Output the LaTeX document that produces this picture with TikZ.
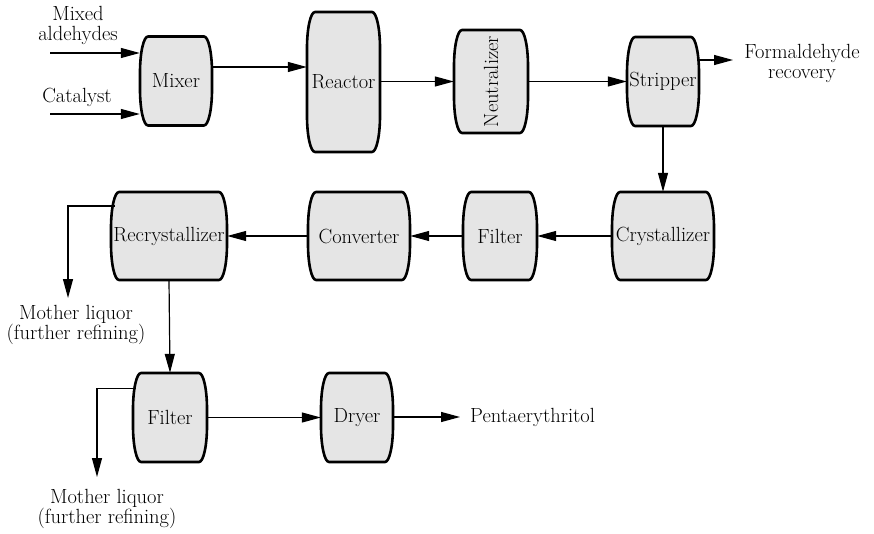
\documentclass[tikz,border=0pt]{standalone}
\usepackage{times}
\usetikzlibrary{arrows.meta,calc}
\definecolor{vfill}{HTML}{E5E5E5}
\tikzset{
  vessel/.style={draw=black, fill=vfill, line width=2.6pt, line join=round},
  vnode/.style={draw=none, inner sep=0pt, font=\fontsize{20.5}{20}\selectfont},
  lbl/.style={inner sep=0pt, align=center, font=\fontsize{20.5}{20}\selectfont},
  flow/.style={line width=1.2pt, -{Triangle[length=19pt,width=10pt]}}
}
\newcommand\vessel[6]{%
  \filldraw[vessel] ({#2-#4/2+8},{-#3+#5/2}) -- ({#2+#4/2-8},{-#3+#5/2})
    arc[start angle=90,end angle=0,x radius=8pt,y radius=36pt]
    -- ({#2+#4/2},{-#3-#5/2+36})
    arc[start angle=0,end angle=-90,x radius=8pt,y radius=36pt]
    -- ({#2-#4/2+8},{-#3-#5/2})
    arc[start angle=270,end angle=180,x radius=8pt,y radius=36pt]
    -- ({#2-#4/2},{-#3+#5/2-36})
    arc[start angle=180,end angle=90,x radius=8pt,y radius=36pt]
    -- cycle;
  \node[vnode, minimum width=#4pt, minimum height=#5pt] (#1) at (#2,-#3) {#6};}
\begin{document}
\begin{tikzpicture}[x=1pt,y=1pt]
\useasboundingbox (0,0) rectangle (874,-534);
% vessels
\vessel{mixer}{176}{81}{72}{89}{Mixer}
\vessel{reactor}{343.5}{82}{73}{140}{Reactor}
\vessel{neut}{491}{81.5}{74}{103}{\rotatebox{90}{Neutralizer}}
\vessel{stripper}{663}{81.5}{72}{89}{Stripper}
\vessel{cryst}{663}{236}{102}{88}{Crystallizer}
\vessel{filterA}{500}{236}{74}{88}{Filter}
\vessel{conv}{359}{236}{102}{88}{Converter}
\vessel{recryst}{169}{236}{116}{88}{Recrystallizer}
\vessel{filterB}{170}{417.5}{74}{89}{Filter}
\vessel{dryer}{357}{417.5}{72}{89}{Dryer}
% labels
\node[lbl] (mixed) at (78,-25) {Mixed\\aldehydes};
\node[lbl] (cat) at (77,-97) {Catalyst};
\node[lbl] (recov) at (802,-63) {Formaldehyde\\recovery};
\node[lbl] (mlA) at (76,-325) {Mother liquor\\(further refining)};
\node[lbl] (mlB) at (107,-509) {Mother liquor\\(further refining)};
\node[lbl, anchor=west, inner xsep=10pt] (pent) at (460,-417) {Pentaerythritol};
% free ends
\coordinate (inA) at (50,-53);
\coordinate (inB) at (50,-114);
\coordinate (recTip) at (733,-60);
\coordinate (mlAtip) at (68,-298);
\coordinate (mlBtip) at (97,-477);
% connectors
\draw[flow] (inA) -- (mixer.west |- inA);
\draw[flow] (inB) -- (mixer.west |- inB);
\draw[flow] ([yshift=14pt]mixer.east) -- ([yshift=14pt]mixer.east -| reactor.west);
\draw[flow] (reactor.east |- neut.west) -- (neut.west);
\draw[flow] (neut.east) -- (stripper.west);
\draw[flow] (stripper.east |- recTip) -- (recTip);
\draw[flow] (stripper.south) -- (cryst.north);
\draw[flow] (cryst.west) -- (filterA.east);
\draw[flow] (filterA.west) -- (conv.east);
\draw[flow] (conv.west) -- (recryst.east);
\draw[flow] ([xshift=4pt,yshift=30pt]recryst.west) -| (mlAtip);
\draw[flow] (recryst.south) -- (filterB.north);
\draw[flow] ([xshift=3pt,yshift=29pt]filterB.west) -| (mlBtip);
\draw[flow] (filterB.east) -- (dryer.west);
\draw[flow] (dryer.east |- pent.west) -- (pent.west);
\end{tikzpicture}
\end{document}
